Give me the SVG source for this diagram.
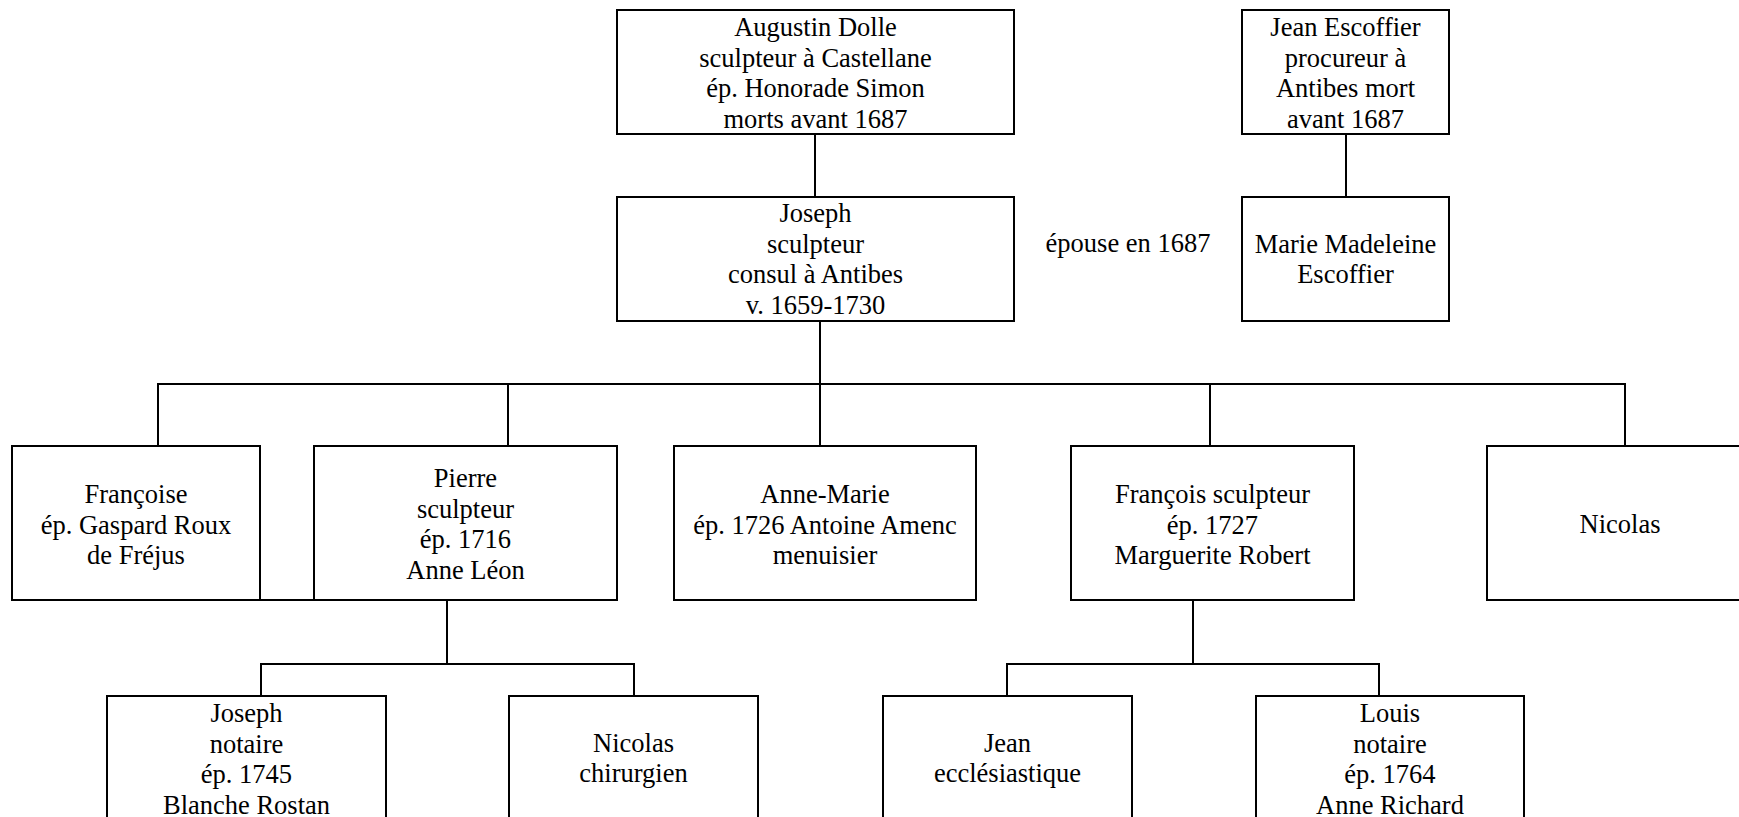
<svg xmlns="http://www.w3.org/2000/svg" width="1739" height="817" viewBox="0 0 1739 817">
<style>
  .box { fill: #ffffff; stroke: #000000; stroke-width: 2; }
  .t { font-family: "Liberation Serif", "Times New Roman", serif; font-size: 26.5px; fill: #000000; text-anchor: middle; }
  .conn line { stroke: #000000; stroke-width: 2; }
</style>
<rect x="0" y="0" width="1739" height="817" fill="#ffffff"/>

<g id="connectors" class="conn">
  <line x1="815" y1="134" x2="815" y2="197"/>
  <line x1="1346" y1="134" x2="1346" y2="197"/>
  <line x1="820" y1="321" x2="820" y2="446"/>
  <line x1="157" y1="384" x2="1626" y2="384"/>
  <line x1="158" y1="384" x2="158" y2="446"/>
  <line x1="508" y1="384" x2="508" y2="446"/>
  <line x1="1210" y1="384" x2="1210" y2="446"/>
  <line x1="1625" y1="384" x2="1625" y2="446"/>
  <line x1="260" y1="600" x2="314" y2="600"/>
  <line x1="447" y1="600" x2="447" y2="664"/>
  <line x1="260" y1="664" x2="635" y2="664"/>
  <line x1="261" y1="664" x2="261" y2="696"/>
  <line x1="634" y1="664" x2="634" y2="696"/>
  <line x1="1193" y1="600" x2="1193" y2="664"/>
  <line x1="1006" y1="664" x2="1380" y2="664"/>
  <line x1="1007" y1="664" x2="1007" y2="696"/>
  <line x1="1379" y1="664" x2="1379" y2="696"/>
</g>

<g id="augustin">
  <rect class="box" x="617" y="10" width="397" height="124"/>
  <text class="t" x="815.5" y="36">Augustin Dolle</text>
  <text class="t" x="815.5" y="66.5">sculpteur à Castellane</text>
  <text class="t" x="815.5" y="97">ép. Honorade Simon</text>
  <text class="t" x="815.5" y="127.5">morts avant 1687</text>
</g>

<g id="jean-escoffier">
  <rect class="box" x="1242" y="10" width="207" height="124"/>
  <text class="t" x="1345.5" y="36">Jean Escoffier</text>
  <text class="t" x="1345.5" y="66.5">procureur à</text>
  <text class="t" x="1345.5" y="97">Antibes mort</text>
  <text class="t" x="1345.5" y="127.5">avant 1687</text>
</g>

<g id="joseph">
  <rect class="box" x="617" y="197" width="397" height="124"/>
  <text class="t" x="815.5" y="222">Joseph</text>
  <text class="t" x="815.5" y="252.5">sculpteur</text>
  <text class="t" x="815.5" y="283">consul à Antibes</text>
  <text class="t" x="815.5" y="313.5">v. 1659-1730</text>
</g>

<g id="epouse-label">
  <text class="t" x="1128" y="252">épouse en 1687</text>
</g>

<g id="marie-madeleine">
  <rect class="box" x="1242" y="197" width="207" height="124"/>
  <text class="t" x="1345.5" y="252.5">Marie Madeleine</text>
  <text class="t" x="1345.5" y="283">Escoffier</text>
</g>

<g id="francoise">
  <rect class="box" x="12" y="446" width="248" height="154"/>
  <text class="t" x="136" y="503">Françoise</text>
  <text class="t" x="136" y="533.5">ép. Gaspard Roux</text>
  <text class="t" x="136" y="564">de Fréjus</text>
</g>

<g id="pierre">
  <rect class="box" x="314" y="446" width="303" height="154"/>
  <text class="t" x="465.5" y="487">Pierre</text>
  <text class="t" x="465.5" y="517.5">sculpteur</text>
  <text class="t" x="465.5" y="548">ép. 1716</text>
  <text class="t" x="465.5" y="578.5">Anne Léon</text>
</g>

<g id="anne-marie">
  <rect class="box" x="674" y="446" width="302" height="154"/>
  <text class="t" x="825" y="503">Anne-Marie</text>
  <text class="t" x="825" y="533.5">ép. 1726 Antoine Amenc</text>
  <text class="t" x="825" y="564">menuisier</text>
</g>

<g id="francois">
  <rect class="box" x="1071" y="446" width="283" height="154"/>
  <text class="t" x="1212.5" y="503">François sculpteur</text>
  <text class="t" x="1212.5" y="533.5">ép. 1727</text>
  <text class="t" x="1212.5" y="564">Marguerite Robert</text>
</g>

<g id="nicolas">
  <rect class="box" x="1487" y="446" width="266" height="154"/>
  <text class="t" x="1620" y="533">Nicolas</text>
</g>

<g id="joseph-notaire">
  <rect class="box" x="107" y="696" width="279" height="124"/>
  <text class="t" x="246.5" y="722">Joseph</text>
  <text class="t" x="246.5" y="752.5">notaire</text>
  <text class="t" x="246.5" y="783">ép. 1745</text>
  <text class="t" x="246.5" y="813.5">Blanche Rostan</text>
</g>

<g id="nicolas-chirurgien">
  <rect class="box" x="509" y="696" width="249" height="124"/>
  <text class="t" x="633.5" y="752">Nicolas</text>
  <text class="t" x="633.5" y="782">chirurgien</text>
</g>

<g id="jean-ecclesiastique">
  <rect class="box" x="883" y="696" width="249" height="124"/>
  <text class="t" x="1007.5" y="752">Jean</text>
  <text class="t" x="1007.5" y="782">ecclésiastique</text>
</g>

<g id="louis">
  <rect class="box" x="1256" y="696" width="268" height="124"/>
  <text class="t" x="1390" y="722">Louis</text>
  <text class="t" x="1390" y="752.5">notaire</text>
  <text class="t" x="1390" y="783">ép. 1764</text>
  <text class="t" x="1390" y="813.5">Anne Richard</text>
</g>
</svg>
